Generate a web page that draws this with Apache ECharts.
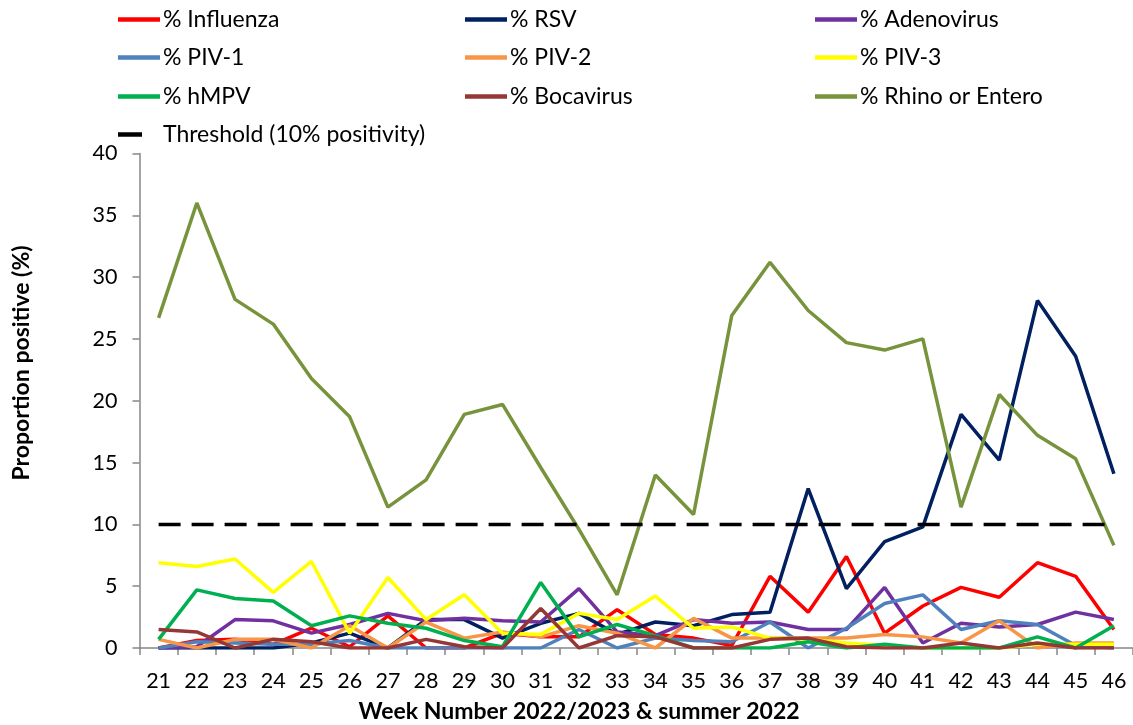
<!DOCTYPE html>
<html>
<head>
<meta charset="utf-8">
<script src="https://cdn.jsdelivr.net/npm/echarts@6/dist/echarts.min.js"></script>
<style>
html,body{margin:0;padding:0;background:#fff;}
#chart{width:1133px;height:725px;}
</style>
</head>
<body>
<div id="chart"></div>
<script>
const weeks = ['21','22','23','24','25','26','27','28','29','30','31','32','33','34','35','36','37','38','39','40','41','42','43','44','45','46'];
const influenza = [0,0.6,0.7,0.3,1.6,0.1,2.6,0,0,1.2,0.9,0.9,3.1,1.1,0.8,0.2,5.8,2.9,7.4,1.2,3.4,4.9,4.1,6.9,5.8,1.5];
const rsv = [0,0,0,0,0.4,1.2,0,2.3,2.3,0.8,2.0,2.8,1.1,2.1,1.8,2.7,2.9,12.9,4.8,8.6,9.8,18.9,15.2,28.1,23.6,14.1];
const adenovirus = [0,0.1,2.3,2.2,1.2,1.9,2.8,2.2,2.4,2.2,2.1,4.8,1.3,1.0,2.3,2.0,2.1,1.5,1.5,4.9,0.4,2.0,1.7,1.9,2.9,2.3];
const piv1 = [0,0.5,0.4,0.3,0.3,0.6,0,0,0,0,0,1.5,0,0.8,0.6,0.5,2.1,0,1.6,3.6,4.3,1.5,2.2,1.9,0.2,0];
const piv2 = [0.7,0,0.7,0.7,0,1.8,0,2.1,0.8,1.3,0.9,1.8,1.2,0,2.4,0.8,0.8,0.8,0.8,1.1,0.9,0.4,2.2,0,0.4,0.4];
const piv3 = [6.9,6.6,7.2,4.5,7.0,1.2,5.7,2.3,4.3,1.2,1.1,2.8,2.3,4.2,1.6,1.7,0.8,0.7,0.4,0.2,0,0,0,0.3,0.3,0.3];
const hmpv = [0.7,4.7,4.0,3.8,1.8,2.6,2.0,1.6,0.6,0.1,5.3,0.9,1.9,1.0,0,0,0,0.5,0,0.3,0,0,0,0.9,0,1.8];
const bocavirus = [1.5,1.3,0,0.7,0.5,0,0,0.7,0.1,0,3.2,0,1.0,0.9,0,0,0.7,0.8,0.1,0,0,0.4,0,0.4,0,0];
const rhinoEntero = [26.7,36,28.2,26.2,21.8,18.7,11.4,13.6,18.9,19.7,14.6,9.6,4.3,14,10.8,26.9,31.2,27.3,24.7,24.1,25,11.4,20.5,17.2,15.3,8.3];
const threshold = [10,10,10,10,10,10,10,10,10,10,10,10,10,10,10,10,10,10,10,10,10,10,10,10,10,10];
const yTicks = [0,5,10,15,20,25,30,35,40];

const seriesDefs = [
  {name:'% Influenza', data:influenza, color:'#FF0000'},
  {name:'% RSV', data:rsv, color:'#002060'},
  {name:'% Adenovirus', data:adenovirus, color:'#7030A0'},
  {name:'% PIV-1', data:piv1, color:'#4F81BD'},
  {name:'% PIV-2', data:piv2, color:'#F79646'},
  {name:'% PIV-3', data:piv3, color:'#FFFF00'},
  {name:'% hMPV', data:hmpv, color:'#00B050'},
  {name:'% Bocavirus', data:bocavirus, color:'#953735'},
  {name:'% Rhino or Entero', data:rhinoEntero, color:'#77933C'},
  {name:'Threshold (10% positivity)', data:threshold, color:'#000000', dashed:true}
];

const FONT = 'Lato, "Liberation Sans", sans-serif';
// legend layout: [name, left, rowCenterY, iconWidth, textPadLeft]
const legendLayout = [
  ['% Influenza',118,20,42,-2],['% RSV',465,20,42,-2],['% Adenovirus',815,20,42,-2],
  ['% PIV-1',118,58,42,-2],['% PIV-2',465,58,42,-2],['% PIV-3',815,58,42,-2],
  ['% hMPV',118,97,42,-2],['% Bocavirus',465,97,42,-2],['% Rhino or Entero',815,97,42,-2],
  ['Threshold (10% positivity)',118,135,24,16]
];

const legends = legendLayout.map(function(l){
  return {
    data:[{name:l[0], icon:'rect'}],
    left:l[1], top:l[2]-12, itemWidth:l[3], itemHeight:4.5, itemGap:0,
    padding:0,
    textStyle:{fontFamily:FONT, fontSize:23, color:'#000', padding:[0,0,0,l[4]]}
  };
});

const chart = echarts.init(document.getElementById('chart'), null, {renderer:'canvas'});
chart.setOption({
  animation:false,
  backgroundColor:'#ffffff',
  legend: legends,
  grid:{left:139.5, right:0, top:153.5, bottom:77, containLabel:false},
  xAxis:{
    type:'category', data:weeks, boundaryGap:true,
    axisLine:{lineStyle:{color:'#868686', width:1.5}},
    axisTick:{show:true, inside:false, length:7, alignWithLabel:false, lineStyle:{color:'#868686', width:1.5}},
    axisLabel:{fontFamily:FONT, fontSize:21.5, color:'#000', margin:22, interval:0},
    splitLine:{show:false}
  },
  yAxis:{
    type:'value', min:yTicks[0], max:yTicks[yTicks.length-1], interval:5,
    axisLine:{show:true, lineStyle:{color:'#868686', width:1.5}},
    axisTick:{show:true, inside:false, length:7, lineStyle:{color:'#868686', width:1.5}},
    axisLabel:{fontFamily:FONT, fontSize:21.5, color:'#000', margin:22},
    splitLine:{show:false}
  },
  graphic:[
    {type:'text', x:22, y:363, rotation:Math.PI/2,
     style:{text:'Proportion positive (%)', font:'bold 23px '+FONT, fill:'#000', align:'center', verticalAlign:'middle'}},
    {type:'text', x:579, y:712,
     style:{text:'Week Number 2022/2023 & summer 2022', font:'bold 23px '+FONT, fill:'#000', align:'center', verticalAlign:'middle'}}
  ],
  series: seriesDefs.map(function(s){
    return {
      name:s.name, type:'line', data:s.data, symbol:'none', smooth:false,
      itemStyle:{color:s.color},
      lineStyle:{color:s.color, width:3.5, type: s.dashed ? [22,11] : 'solid', cap:'butt'},
      emphasis:{disabled:true}
    };
  })
});
</script>
</body>
</html>
